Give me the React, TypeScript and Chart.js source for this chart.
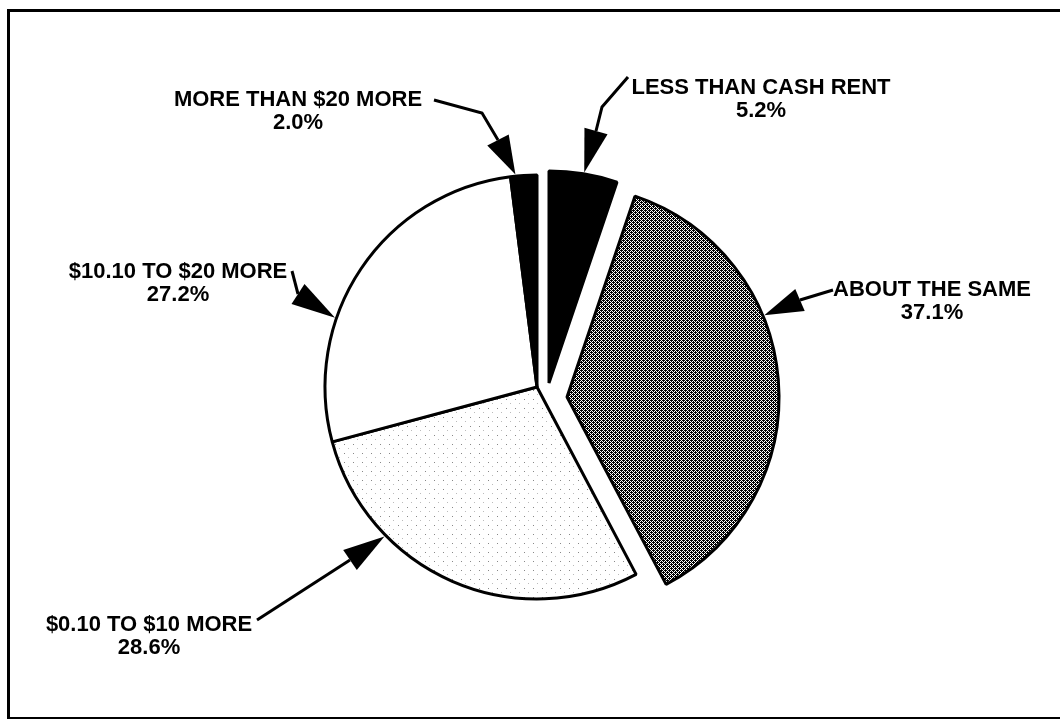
import React, { useEffect, useRef } from "react";
import { Chart, registerables } from "chart.js";

Chart.register(...registerables);

// ---- data ----
const categories = [
  "LESS THAN CASH RENT",
  "ABOUT THE SAME",
  "$0.10 TO $10 MORE",
  "$10.10 TO $20 MORE",
  "MORE THAN $20 MORE",
];
const shares = [5.2, 37.1, 28.6, 27.2, 2.0];

// ---- styling / layout (not data) ----
const explodeX = [12, 30, 0, 0, 0];
const explodeY = [-4, 10, 0, 0, 0];

type Callout = { cx: number; baseline: number; leader: number[][]; tipDeg: number };
const callouts: Callout[] = [
  { cx: 761, baseline: 94, leader: [[628, 77], [602, 107], [596, 131]], tipDeg: 9.5 },
  { cx: 932, baseline: 296, leader: [[833, 290], [800, 300]], tipDeg: 67.5 },
  { cx: 149, baseline: 631, leader: [[257, 620], [350, 560]], tipDeg: 225.6 },
  { cx: 178, baseline: 278, leader: [[292, 271], [298, 294]], tipDeg: 288.9 },
  { cx: 298, baseline: 106, leader: [[434, 100], [482, 113], [498, 140]], tipDeg: -5.8 },
];

const FONT = 'bold 22px "Liberation Sans", Arial, sans-serif';

function makePattern(size: number, dark: (x: number, y: number) => string | null): CanvasPattern | string {
  const c = document.createElement("canvas");
  c.width = size;
  c.height = size;
  const g = c.getContext("2d");
  if (!g) return "#888";
  g.fillStyle = "#fff";
  g.fillRect(0, 0, size, size);
  for (let y = 0; y < size; y++) {
    for (let x = 0; x < size; x++) {
      const col = dark(x, y);
      if (col) {
        g.fillStyle = col;
        g.fillRect(x, y, 1, 1);
      }
    }
  }
  const p = g.createPattern(c, "repeat");
  return p || "#888";
}

const calloutPlugin = {
  id: "callouts",
  beforeDatasetsDraw(chart: any) {
    const meta = chart.getDatasetMeta(0);
    meta.data.forEach((el: any, i: number) => {
      el.x += explodeX[i];
      el.y += explodeY[i];
    });
  },
  afterDatasetsDraw(chart: any) {
    const ctx: CanvasRenderingContext2D = chart.ctx;
    const meta = chart.getDatasetMeta(0);
    ctx.save();
    meta.data.forEach((el: any, i: number) => {
      const L = callouts[i];
      const a = ((L.tipDeg - 90) * Math.PI) / 180;
      const r = el.outerRadius + 1.5;
      const tx = el.x + Math.cos(a) * r;
      const ty = el.y + Math.sin(a) * r;
      ctx.strokeStyle = "#000";
      ctx.fillStyle = "#000";
      ctx.lineWidth = 3;
      ctx.lineJoin = "miter";
      ctx.beginPath();
      ctx.moveTo(L.leader[0][0], L.leader[0][1]);
      for (let k = 1; k < L.leader.length; k++) ctx.lineTo(L.leader[k][0], L.leader[k][1]);
      ctx.stroke();
      const [bx, by] = L.leader[L.leader.length - 1];
      const dx = tx - bx;
      const dy = ty - by;
      const len = Math.hypot(dx, dy) || 1;
      const nx = -dy / len;
      const ny = dx / len;
      const hw = 12;
      ctx.beginPath();
      ctx.moveTo(bx + nx * hw, by + ny * hw);
      ctx.lineTo(bx - nx * hw, by - ny * hw);
      ctx.lineTo(tx, ty);
      ctx.closePath();
      ctx.fill();
      ctx.font = FONT;
      ctx.textAlign = "center";
      ctx.textBaseline = "alphabetic";
      ctx.fillText(categories[i], L.cx, L.baseline);
      ctx.fillText(shares[i].toFixed(1) + "%", L.cx, L.baseline + 23);
    });
    ctx.restore();
    meta.data.forEach((el: any, i: number) => {
      el.x -= explodeX[i];
      el.y -= explodeY[i];
    });
  },
};

export default function App() {
  const ref = useRef<HTMLCanvasElement | null>(null);
  useEffect(() => {
    if (!ref.current) return;
    const dither = makePattern(4, (x, y) =>
      (x + y) % 2 === 0 || (x === 1 && y === 2) || (x === 3 && y === 0) ? "#000" : null
    );
    const dots = makePattern(9, (x, y) => (x === 2 && y === 3 ? "#888" : x === 6 && y === 7 ? "#bbb" : null));
    const fills: any[] = ["#000", dither, dots, "#fff", "#000"];
    const chart = new Chart(ref.current, {
      type: "pie",
      data: {
        labels: categories,
        datasets: [
          {
            data: shares,
            backgroundColor: fills,
            borderColor: "#000",
            borderWidth: 3,
            radius: 212,
          } as any,
        ],
      },
      options: {
        responsive: false,
        animation: false,
        layout: { padding: { left: 14, right: 0, top: 54, bottom: 0 } },
        plugins: { legend: { display: false }, tooltip: { enabled: false } },
      },
      plugins: [calloutPlugin],
    });
    return () => chart.destroy();
  }, []);
  return (
    <>
      <div
        style={{
          position: "absolute",
          left: 7,
          top: 9,
          right: 0,
          height: 710,
          boxSizing: "border-box",
          borderLeft: "3px solid #000",
          borderTop: "3px solid #000",
          borderBottom: "2px solid #000",
        }}
      />
      <canvas
        ref={ref}
        width={1060}
        height={720}
        style={{ position: "absolute", left: 0, top: 0, width: 1060, height: 720, display: "block" }}
      />
    </>
  );
}
